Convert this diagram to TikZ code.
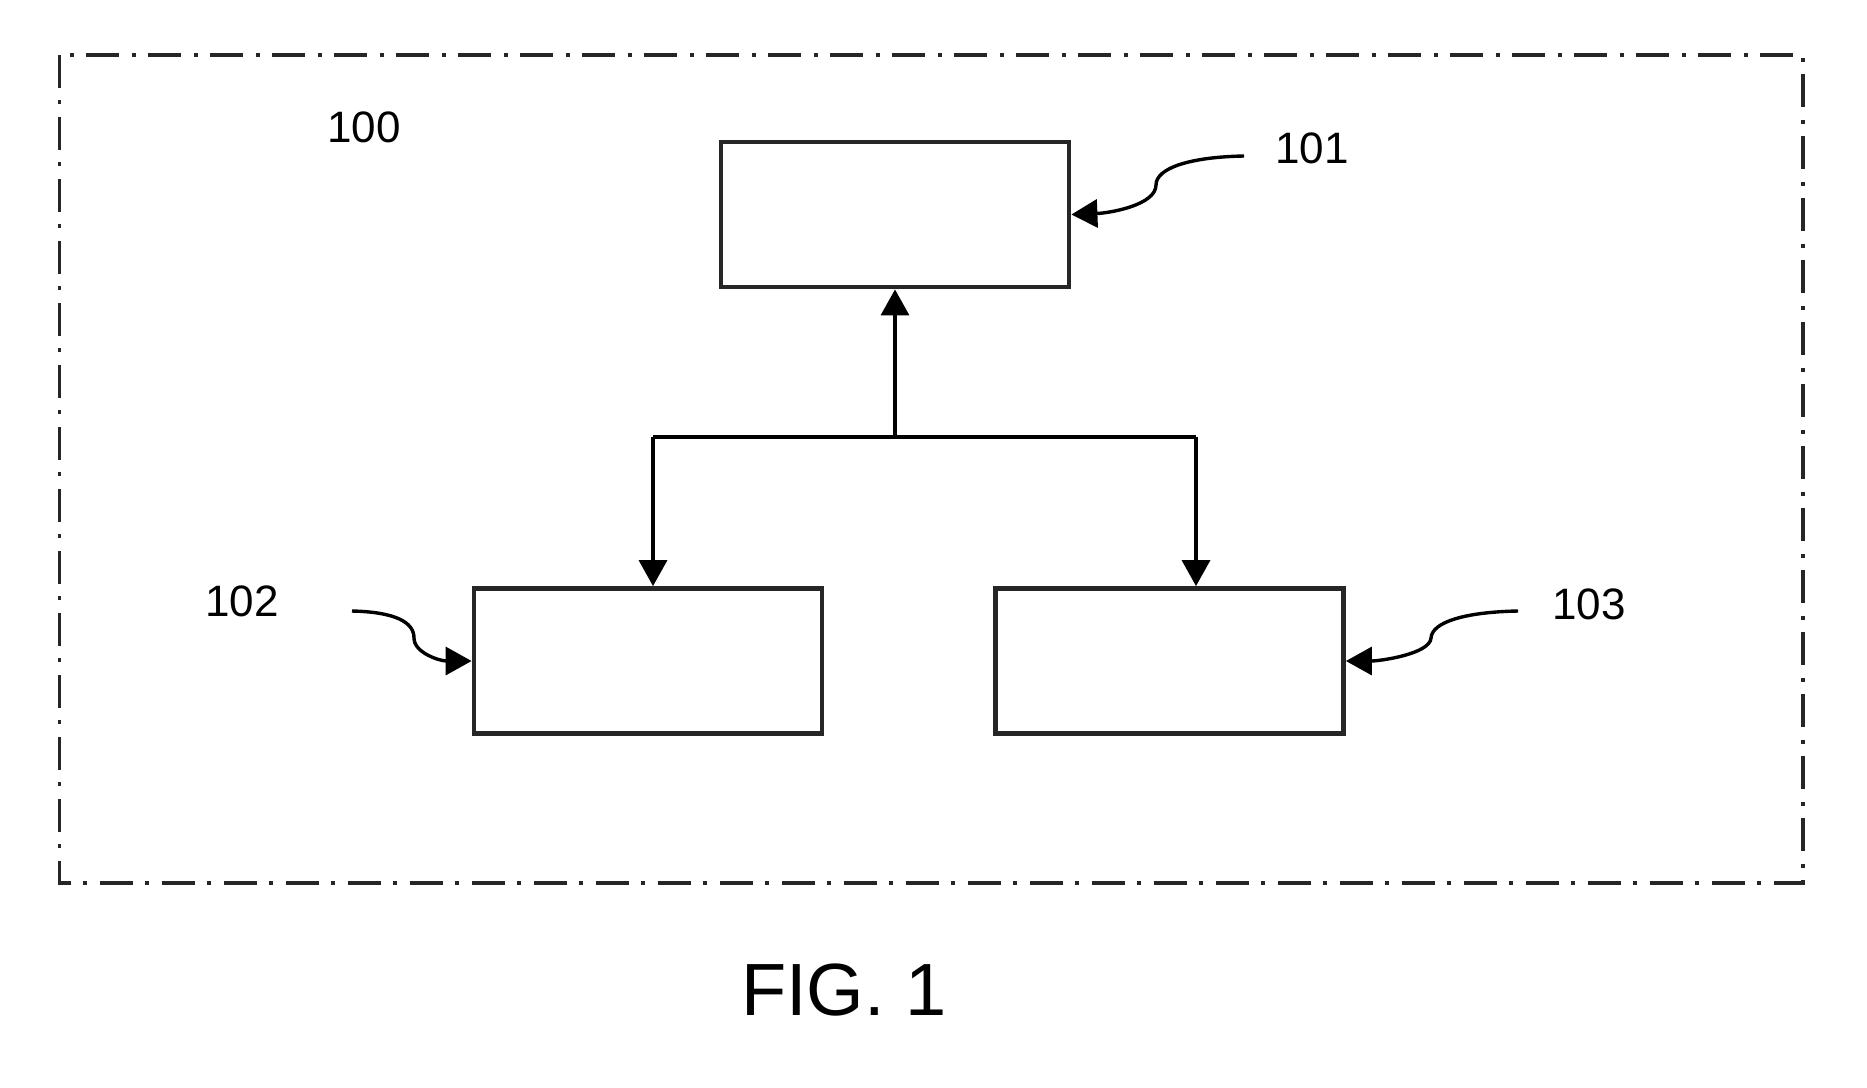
\documentclass[tikz,border=0pt]{standalone}
\usepackage{fontspec}
\setmainfont{Liberation Sans}
\usepackage{tikz}
\usetikzlibrary{arrows.meta, positioning, calc}

\begin{document}
\begin{tikzpicture}[x=0.5pt, y=-0.5pt,
  blockbox/.style={draw=black!85, line width=2.4pt, fill=white, inner sep=0pt,
    minimum width=174pt, minimum height=72.5pt},
  wire/.style={line width=1.7pt, black},
  tip/.style={-{Triangle[length=13pt, width=14pt]}},
  refnum/.style={font=\fontsize{22}{26}\selectfont},
  frame/.style={draw=black!85, line width=1.8pt,
    dash pattern=on 16.5pt off 6pt on 2pt off 6.5pt}]
  \useasboundingbox (0,0) rectangle (1867,1087);
  % outer dash-dot frame
  \draw[frame] (59.5,55) rectangle (1803,883);
  \node[refnum] (n100) at (364,127) {100};
  % blocks
  \node[blockbox] (b101) at (895,214.5) {};
  \node[blockbox] (b102) at (648,661) {};
  \node[blockbox] (b103) at (1169.5,661) {};
  % tree connectors
  \coordinate (split) at (895,437);
  \coordinate (joinL) at (653,437);
  \coordinate (joinR) at (1196,437);
  \draw[wire] (joinL) -- (joinR);
  \draw[wire, tip] (split) -- (b101.south);
  \draw[wire, tip] (joinL) -- (joinL |- b102.north);
  \draw[wire, tip] (joinR) -- (joinR |- b103.north);
  % reference numerals with leaders
  \node[refnum] (n101) at (1312,148) {101};
  \node[refnum] (n102) at (242,601) {102};
  \node[refnum] (n103) at (1589,604) {103};
  \coordinate (lead101) at (1244,156);
  \coordinate (lead102) at (352,611);
  \coordinate (lead103) at (1518,611);
  \draw[wire, tip] (lead101) .. controls (1190,157) and (1156,168) .. (1156,185)
    .. controls (1156,205) and (1110,213) .. (b101.east);
  \draw[wire, tip] (lead102) .. controls (395,612) and (414,622) .. (414,638)
    .. controls (414,653) and (440,661) .. (b102.west);
  \draw[wire, tip] (lead103) .. controls (1465,612) and (1432,622) .. (1431,638)
    .. controls (1430,654) and (1380,661) .. (b103.east);
  \node[font=\fontsize{37}{44}\selectfont] (caption) at (844,990) {FIG. 1};
\end{tikzpicture}
\end{document}
